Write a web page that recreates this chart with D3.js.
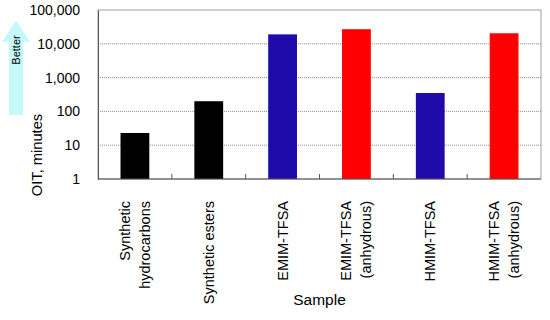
<!DOCTYPE html>
<html>
<head>
<meta charset="utf-8">
<script src="https://cdn.jsdelivr.net/npm/d3@7"></script>
<style>
  body { margin: 0; background: #fff; }
  text { font-family: "Liberation Sans", Arial, sans-serif; }
</style>
</head>
<body>
<div id="chart"></div>
<script>
// chart data
var categories = [
  ["Synthetic", "hydrocarbons"],
  ["Synthetic esters"],
  ["EMIM-TFSA"],
  ["EMIM-TFSA", "(anhydrous)"],
  ["HMIM-TFSA"],
  ["HMIM-TFSA", "(anhydrous)"]
];
var oitValues = [23, 200, 19000, 27000, 350, 20500];
var barColors = ["#000000", "#000000", "#1f0aac", "#ff0000", "#1f0aac", "#ff0000"];
var yTicks = [1, 10, 100, 1000, 10000, 100000];

var W = 550, H = 320;
var margin = {left: 98, right: 9, top: 10, bottom: 141};
var iw = W - margin.left - margin.right,
    ih = H - margin.top - margin.bottom;

var svg = d3.select("#chart").append("svg").attr("width", W).attr("height", H);
var g = svg.append("g").attr("transform", "translate(" + margin.left + "," + margin.top + ")");

var x = d3.scaleBand().domain(d3.range(categories.length)).range([0, iw]).paddingInner(0.61).paddingOuter(0.305);
var y = d3.scaleLog().domain([1, 100000]).range([ih, 0]);

// gridlines
g.selectAll("line.grid")
  .data(yTicks.slice(1, -1))
  .enter().append("line")
  .attr("x1", 0).attr("x2", iw)
  .attr("y1", function(d){ return y(d); })
  .attr("y2", function(d){ return y(d); })
  .attr("stroke", "#8a8a8a")
  .attr("stroke-width", 1)
  .attr("stroke-dasharray", "1,1");

// frame (top, right)
g.append("rect").attr("x", 0).attr("y", 0).attr("width", iw).attr("height", ih)
  .attr("fill", "none").attr("stroke", "#a0a0a0").attr("stroke-width", 1);

// bars
g.selectAll("rect.bar")
  .data(oitValues)
  .enter().append("rect")
  .attr("class", "bar")
  .attr("x", function(d, i){ return x(i); })
  .attr("width", x.bandwidth())
  .attr("y", function(d){ return y(d); })
  .attr("height", function(d){ return ih - y(d); })
  .attr("fill", function(d, i){ return barColors[i]; });

// y axis
var yAxis = d3.axisLeft(y).tickValues(yTicks).tickSize(0).tickPadding(18)
  .tickFormat(d3.format(",d"));
var ya = g.append("g").call(yAxis);
ya.select(".domain").attr("stroke", "#555");
ya.selectAll("text").attr("font-size", 14).attr("fill", "#000");

// x axis: tick marks between categories, inward
var step = x.step();
var xa = g.append("g").attr("transform", "translate(0," + ih + ")");
xa.append("line").attr("x1", 0).attr("x2", iw).attr("stroke", "#555");
xa.selectAll("line.tk")
  .data(d3.range(1, categories.length))
  .enter().append("line")
  .attr("x1", function(d){ return d * step; })
  .attr("x2", function(d){ return d * step; })
  .attr("y1", 0).attr("y2", -5)
  .attr("stroke", "#555");

// category labels (rotated)
var lab = xa.selectAll("g.lab")
  .data(categories)
  .enter().append("g")
  .attr("transform", function(d, i){
    return "translate(" + (x(i) + x.bandwidth() / 2) + ",22) rotate(-90)";
  });
lab.selectAll("text")
  .data(function(d){ return d.map(function(t, j){ return {t: t, j: j, n: d.length}; }); })
  .enter().append("text")
  .attr("text-anchor", "end")
  .attr("font-size", 14.5)
  .attr("x", 0)
  .attr("y", function(d){ return (d.j - (d.n - 1) / 2) * 20 + 5; })
  .text(function(d){ return d.t; });

// axis titles
svg.append("text").attr("x", margin.left + iw / 2).attr("y", 305)
  .attr("text-anchor", "middle").attr("font-size", 15.5).text("Sample");
svg.append("text").attr("transform", "translate(42,155) rotate(-90)")
  .attr("text-anchor", "middle").attr("font-size", 14.7).text("OIT, minutes");

// "Better" arrow
svg.append("path")
  .attr("d", "M16,20 L30,42 L23,42 L23,115 L9,115 L9,42 L2,42 Z")
  .attr("fill", "#c4fafa");
svg.append("text").attr("transform", "translate(20,50) rotate(-90)")
  .attr("text-anchor", "middle").attr("font-size", 11).text("Better");
</script>
</body>
</html>
